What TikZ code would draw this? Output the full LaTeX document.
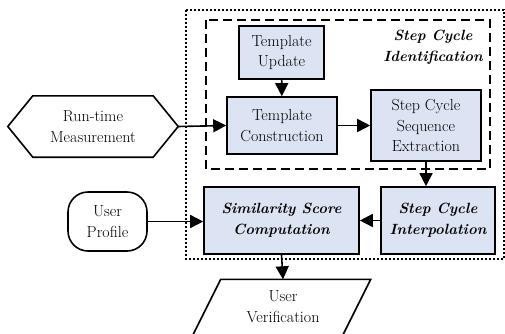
\documentclass[tikz,border=0pt]{standalone}
\usepackage{fontspec}
\usetikzlibrary{arrows.meta}
\definecolor{boxfill}{HTML}{DCE3F2}
\begin{document}
\begin{tikzpicture}[x=1pt,y=-1pt,
  every node/.style={font=\rmfamily\fontsize{16}{20.8}\selectfont, align=center, inner sep=0pt},
  proc/.style={draw, line width=1.6pt, fill=boxfill},
  conn/.style={line width=1.6pt, -{Triangle[length=13pt,width=13pt]}},
  bi/.style={font=\rmfamily\fontsize{14.8}{20.8}\selectfont\bfseries\itshape}]
\useasboundingbox (0,0) rectangle (505,333);
% outer dotted and dashed groups
\draw[line width=1.3pt, dash pattern=on 2pt off 2pt] (186,10) rectangle (504,259);
\draw[line width=1.6pt, dash pattern=on 9pt off 5pt] (206,20) rectangle (490,169);
\node[bi] (sci) at (433,47) {Step Cycle\\Identification};
% process boxes
\node[proc, minimum width=85pt, minimum height=53pt] (tu) at (281.5,52.5) {Template\\Update};
\node[proc, minimum width=110pt, minimum height=57pt] (tc) at (282,125.5) {Template\\Construction};
\node[proc, minimum width=110pt, minimum height=71pt] (sce) at (426,125.5) {Step Cycle\\Sequence\\Extraction};
\node[proc, bi, minimum width=155pt, minimum height=67pt] (ssc) at (281.5,220.5) {Similarity Score\\Computation};
\node[proc, bi, minimum width=114pt, minimum height=67pt] (sci2) at (438,220.5) {Step Cycle\\Interpolation};
% run-time measurement hexagon
\node[minimum width=170pt, minimum height=61pt] (rtm) at (93,126.5) {Run-time\\Measurement};
\draw[line width=1.6pt, line join=miter] (rtm.west) -- ([xshift=25pt]rtm.north west) -- ([xshift=-25pt]rtm.north east) -- (rtm.east) -- ([xshift=-25pt]rtm.south east) -- ([xshift=25pt]rtm.south west) -- cycle;
% user profile
\node[draw, line width=1.6pt, rounded corners=20pt, minimum width=79pt, minimum height=59pt] (up) at (107.5,221.5) {User\\Profile};
% user verification parallelogram
\node (uv) at (283,306.5) {User\\Verification};
\coordinate (uvtop) at (283,279.3);
\draw[line width=1.6pt, line join=miter] (220.7,279.3) -- (370.7,279.3) -- (335.7,349.3) -- (185.7,349.3) -- cycle;
% connectors
\draw[conn] (tu) -- (tc);
\draw[conn] (rtm.east) -- (tc.west);
\draw[conn] (tc.east) -- (sce.west |- tc.east);
\draw[conn] (sce.south) -- (sce.south |- sci2.north);
\draw[conn] (sci2.west) -- (ssc.east);
\draw[conn] (up.east) -- (ssc.west |- up.east);
\draw[conn] (ssc.south) -- (uvtop);
\end{tikzpicture}
\end{document}
